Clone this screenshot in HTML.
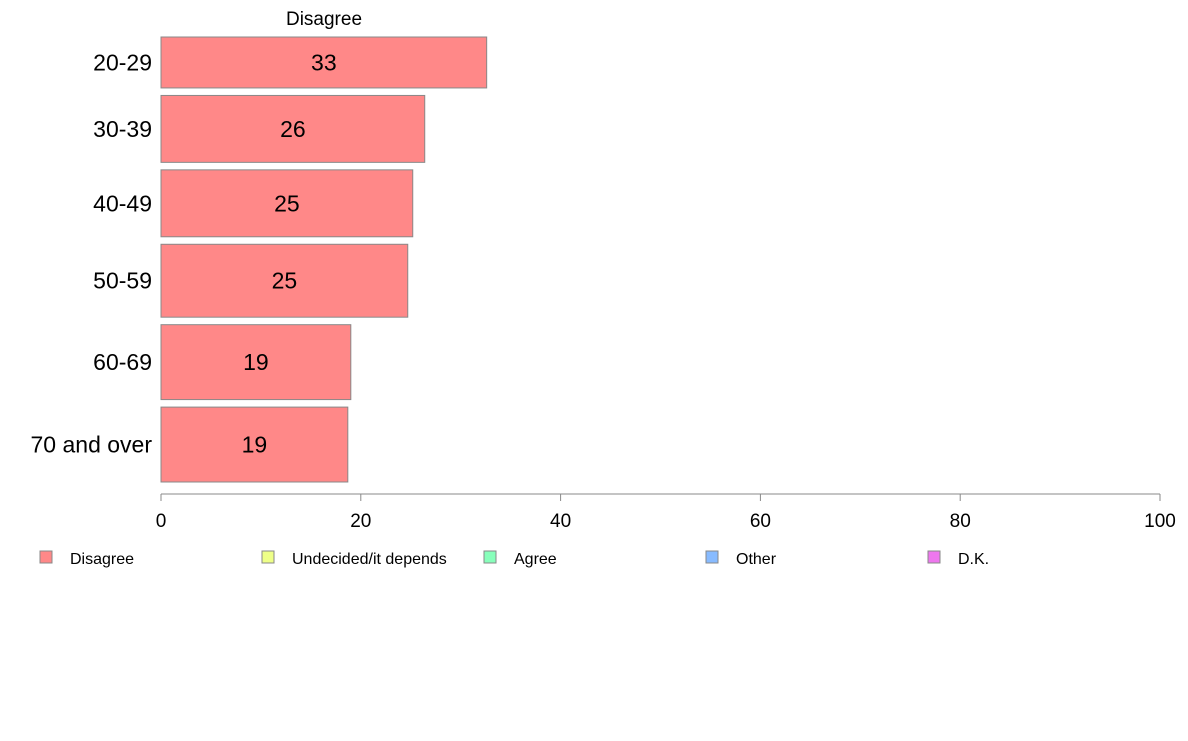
<!DOCTYPE html>
<html><head><meta charset="utf-8"><style>
body{margin:0;background:#fff;}
svg text{font-family:"Liberation Sans",Arial,sans-serif;}
</style></head><body>
<svg id="chart" width="1188" height="736">
<text x="324" y="25" font-size="19" text-anchor="middle">Disagree</text>
<g id="bars"></g>
<g id="xaxis"></g>
<g id="legend"></g>
</svg>
<script>
const categories=["20-29","30-39","40-49","50-59","60-69","70 and over"];
const values=[32.6,26.4,25.2,24.7,19.0,18.7];
const labels=["33","26","25","25","19","19"];
const sampleSizes=[51,67,67,73,75,75];
const ticks=[0,20,40,60,80,100];
const legendItems=["Disagree","Undecided/it depends","Agree","Other","D.K."];
const legendColors=["#ff8888","#eeff88","#88ffbb","#88bbff","#ee77ee"];

const NS="http://www.w3.org/2000/svg";
function mk(t,a,p){const e=document.createElementNS(NS,t);for(const k in a)e.setAttribute(k,a[k]);p.appendChild(e);return e;}
const x0=161,x1=1160;
const xs=v=>x0+(x1-x0)*v/100;
const plotTop=37,plotBottom=482,gap=7.5;
const totalN=sampleSizes.reduce((a,b)=>a+b,0);
const avail=plotBottom-plotTop-gap*(categories.length-1);
const bars=document.getElementById('bars');
let yy=plotTop;
categories.forEach((c,i)=>{
  const h=avail*sampleSizes[i]/totalN;
  const r=mk('rect',{x:xs(0),y:yy,width:xs(values[i])-xs(0),height:h,fill:'#ff8888',stroke:'#888','stroke-width':1},bars);
  
  
  const t=mk('text',{x:(xs(0)+xs(values[i]))/2,y:yy+h/2+8,'font-size':23,'text-anchor':'middle'},bars);
  t.textContent=labels[i];
  
  
  const l=mk('text',{x:152,y:yy+h/2+8,'font-size':23,'text-anchor':'end'},bars);
  l.textContent=c;
  
  
  yy+=h+gap;
});
const ax=document.getElementById('xaxis');
const al=mk('line',{x1:x0,x2:x1,y1:494,y2:494,stroke:'#888'},ax);


ticks.forEach(v=>{
  const tl=mk('line',{x1:xs(v),x2:xs(v),y1:494,y2:501,stroke:'#888'},ax);
  
  
  const tt=mk('text',{x:xs(v),y:527,'font-size':19,'text-anchor':'middle'},ax);
  tt.textContent=v;
  
  
});
const lg=document.getElementById('legend');
legendItems.forEach((n,i)=>{
  const lx=40+222*i;
  const s=mk('rect',{x:lx,y:551,width:12,height:12,fill:legendColors[i],stroke:'#888'},lg);
  
  
  const t=mk('text',{x:lx+30,y:564,'font-size':16},lg);
  t.textContent=n;
  
  
});
</script>
</body></html>
